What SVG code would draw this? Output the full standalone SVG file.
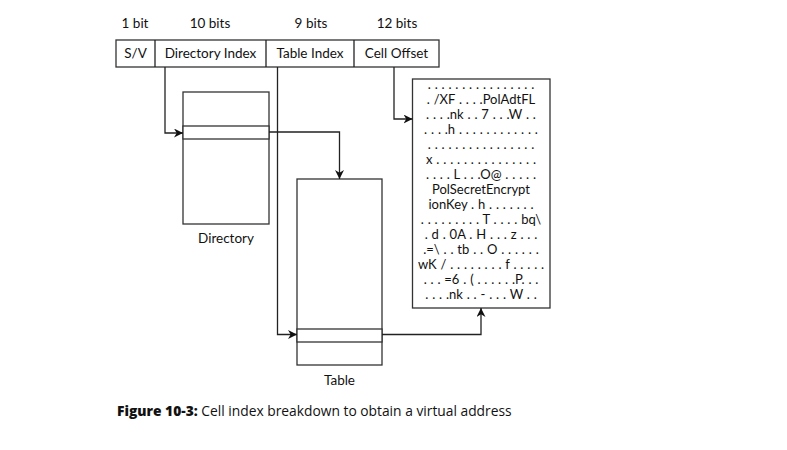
<svg xmlns="http://www.w3.org/2000/svg" width="787" height="450" viewBox="0 0 787 450">
<defs>
<style>
.t{font-family:Lato,"Open Sans","Liberation Sans",sans-serif;font-size:13.5px;fill:#111}
.m{text-anchor:middle}
.d{font-size:13px;word-spacing:0.5px}
.b{fill:#fff;stroke:#333;stroke-width:1.3}
.c{fill:none;stroke:#222;stroke-width:1.3}
</style>
<marker id="ah" viewBox="0 0 10 10" refX="10" refY="5" markerWidth="9" markerHeight="9" markerUnits="userSpaceOnUse" orient="auto">
<path d="M0,0 L10,5 L0,10 L3,5 Z" fill="#111"/>
</marker>
</defs>
<rect width="787" height="450" fill="#fff"/>
<g id="bits">
<text class="t m" x="135" y="28">1 bit</text>
<text class="t m" x="210" y="28">10 bits</text>
<text class="t m" x="311" y="28">9  bits</text>
<text class="t m" x="397" y="28">12 bits</text>
</g>
<g id="cell-index">
<rect class="b" x="116" y="40" width="323" height="27"/>
<line class="c" x1="155" y1="40" x2="155" y2="67"/>
<line class="c" x1="266" y1="40" x2="266" y2="67"/>
<line class="c" x1="354" y1="40" x2="354" y2="67"/>
<text class="t m" x="135.5" y="58">S/V</text>
<text class="t m" x="210.5" y="58">Directory Index</text>
<text class="t m" x="310" y="58">Table Index</text>
<text class="t m" x="396.5" y="58">Cell Offset</text>
</g>
<g id="directory">
<rect class="b" x="183" y="92" width="86" height="132"/>
<rect class="b" x="183" y="126" width="86" height="13"/>
<text class="t m" x="226" y="243">Directory</text>
</g>
<g id="table">
<rect class="b" x="297" y="179" width="85" height="186"/>
<rect class="b" x="297" y="329" width="85" height="13"/>
<text class="t m" x="339.5" y="385">Table</text>
</g>
<g id="cell-data">
<rect class="b" x="412.5" y="79" width="137.5" height="229"/>
<g class="t m d">
<text x="481" y="89">. . . . . . . . . . . . . . . .</text>
<text x="481" y="104">. /XF . . . .PolAdtFL</text>
<text x="481" y="119">. . . .nk . . 7 . . .W . .</text>
<text x="481" y="134">. . . .h . . . . . . . . . . . .</text>
<text x="481" y="149">. . . . . . . . . . . . . . . .</text>
<text x="481" y="164">x . . . . . . . . . . . . . . .</text>
<text x="481" y="179">. . . . L . . .O@ . . . . .</text>
<text x="481" y="194">PolSecretEncrypt</text>
<text x="481" y="209">ionKey . h . . . . . . .</text>
<text x="481" y="224">. . . . . . . . . T . . . . bq\</text>
<text x="481" y="239">. d . 0A . H  . . . z . . .</text>
<text x="481" y="254">.=\ . . tb . . O . . . . . .</text>
<text x="481" y="269">wK / . . . . . . . . f . . . . .</text>
<text x="481" y="284">. . . =6 . ( . . . . . .P. . .</text>
<text x="481" y="299">. . . .nk  . . - . . . W . .</text>
</g>
</g>
<g id="connectors">
<polyline class="c" points="165,67 165,133 183,133" marker-end="url(#ah)"/>
<polyline class="c" points="269,132 339.5,132 339.5,179" marker-end="url(#ah)"/>
<polyline class="c" points="277.5,67 277.5,334.5 297,334.5" marker-end="url(#ah)"/>
<polyline class="c" points="382,334.5 481,334.5 481,308" marker-end="url(#ah)"/>
<polyline class="c" points="394,67 394,119 412.5,119" marker-end="url(#ah)"/>
</g>
<g id="caption">
<text x="117" y="416" style="font-family:'Open Sans','Liberation Sans',sans-serif;font-size:13.8px;fill:#111"><tspan font-weight="800">Figure 10-3:</tspan>  Cell index breakdown to obtain a virtual address</text>
</g>
</svg>
